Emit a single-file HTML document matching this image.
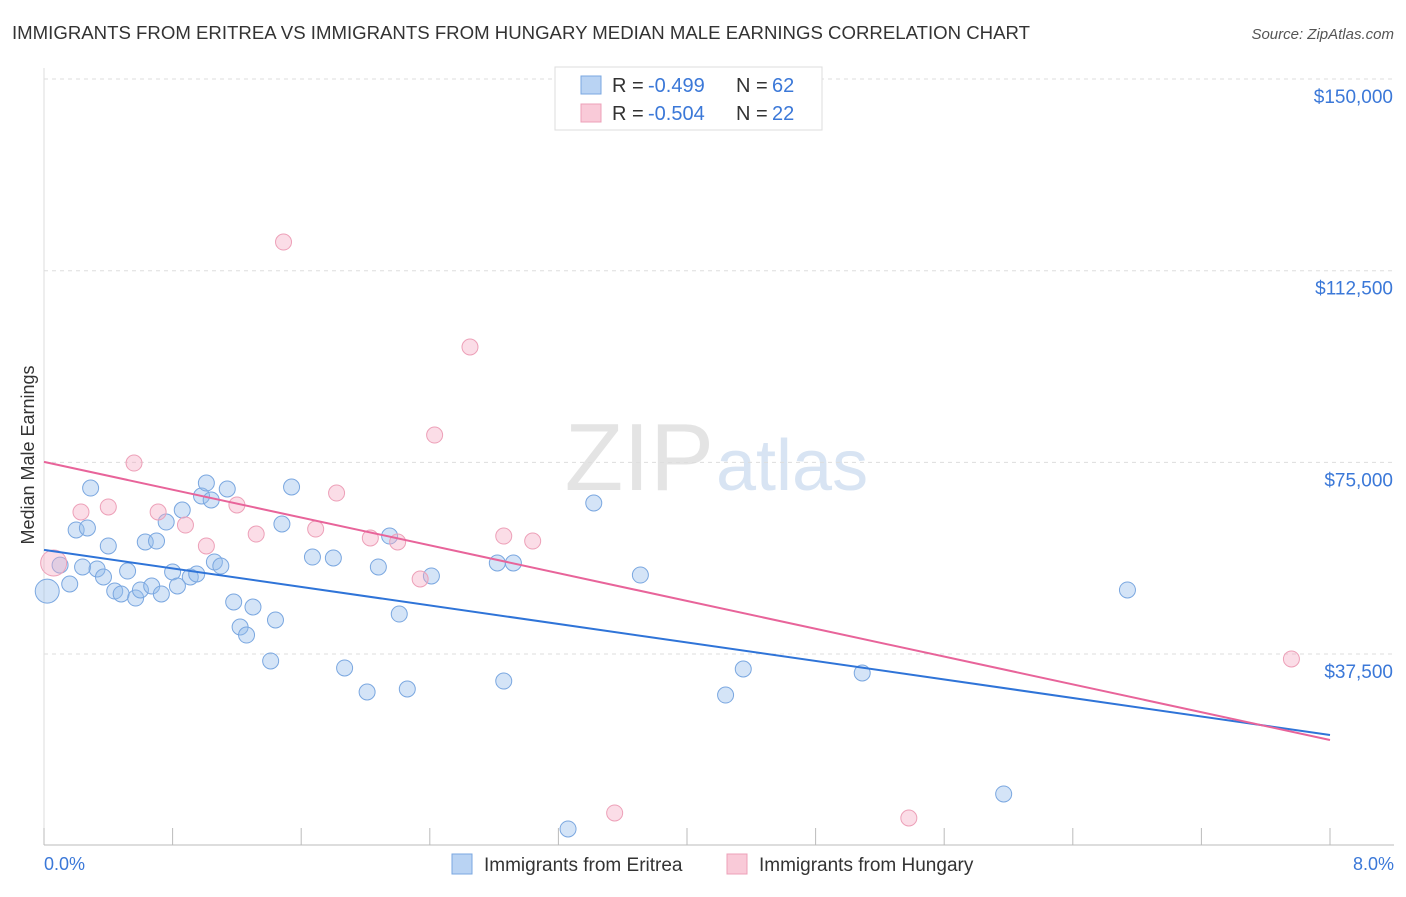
<!DOCTYPE html>
<html><head><meta charset="utf-8"><style>
body{margin:0;background:#fff;font-family:"Liberation Sans",sans-serif;}
svg text{font-family:"Liberation Sans",sans-serif;}
</style></head><body>
<svg width="1406" height="892" xmlns="http://www.w3.org/2000/svg">
<text x="12" y="39" font-size="18" fill="#333" textLength="1018" lengthAdjust="spacingAndGlyphs">IMMIGRANTS FROM ERITREA VS IMMIGRANTS FROM HUNGARY MEDIAN MALE EARNINGS CORRELATION CHART</text>
<text x="1394" y="39" font-size="15" fill="#555" font-style="italic" text-anchor="end">Source: ZipAtlas.com</text>
<text x="714" y="490" font-size="96" fill="#e4e4e4" text-anchor="end" font-family="Liberation Serif">ZIP</text>
<text x="716" y="490" font-size="72" fill="#d8e4f3">atlas</text>
<g id="grid"></g>
<g id="axes"></g>
<g id="marks"></g>
<text transform="translate(34,455) rotate(-90)" font-size="18" fill="#333" text-anchor="middle">Median Male Earnings</text>
<text x="44" y="870" font-size="18" fill="#3b78d8">0.0%</text>
<text x="1394" y="870" font-size="18" fill="#3b78d8" text-anchor="end">8.0%</text>
<g>
<rect x="555" y="67" width="267" height="63" fill="#fff" stroke="#ddd"/>
<rect x="581" y="76" width="20" height="18" fill="#b9d3f3" stroke="#7aa7e0"/>
<rect x="581" y="104" width="20" height="18" fill="#f9cad8" stroke="#eda0b8"/>
<text x="612" y="92" font-size="20" fill="#333">R =</text>
<text x="648" y="92" font-size="20" fill="#3b78d8">-0.499</text>
<text x="736" y="92" font-size="20" fill="#333">N =</text>
<text x="772" y="92" font-size="20" fill="#3b78d8">62</text>
<text x="612" y="120" font-size="20" fill="#333">R =</text>
<text x="648" y="120" font-size="20" fill="#3b78d8">-0.504</text>
<text x="736" y="120" font-size="20" fill="#333">N =</text>
<text x="772" y="120" font-size="20" fill="#3b78d8">22</text>
</g>
<g>
<rect x="452" y="854" width="20" height="20" fill="#b9d3f3" stroke="#7aa7e0"/>
<text x="484" y="871" font-size="19" fill="#333">Immigrants from Eritrea</text>
<rect x="727" y="854" width="20" height="20" fill="#f9cad8" stroke="#eda0b8"/>
<text x="759" y="871" font-size="19" fill="#333">Immigrants from Hungary</text>
</g>
</svg>
<script>
const yTicks=[37500,75000,112500,150000];
const yTickLabels=["$37,500","$75,000","$112,500","$150,000"];
const xTicks=[0,0.8,1.6,2.4,3.2,4,4.8,5.6,6.4,7.2,8];
const eritreaX=[0.02,0.10,0.16,0.20,0.27,0.29,0.24,0.33,0.37,0.40,0.44,0.48,0.52,0.57,0.60,0.63,0.67,0.70,0.73,0.76,0.80,0.83,0.86,0.91,0.95,0.98,1.01,1.04,1.06,1.10,1.14,1.18,1.22,1.26,1.30,1.41,1.44,1.48,1.54,1.67,1.80,1.87,2.01,2.08,2.15,2.21,2.26,2.41,2.82,2.86,2.92,3.26,3.42,3.71,4.24,4.35,5.09,5.97,6.74];
const eritreaY=[49800,54900,51200,61770,62160,69980,54530,54140,52570,58640,49830,49250,53740,48460,50030,59420,50810,59610,49250,63330,53550,50810,65680,52570,53160,68420,70960,67640,55510,54720,69790,47680,42790,41220,46700,36140,44160,62940,70180,56480,56290,34770,30070,54530,60590,45330,30660,52770,55310,32220,55310,3270,67050,52960,29480,34570,33790,10120,50030];
const hungaryX=[0.06,0.23,0.40,0.56,0.71,0.88,1.01,1.20,1.32,1.49,1.69,1.82,2.03,2.20,2.34,2.43,2.65,2.86,3.04,3.55,5.38,7.76];
const hungaryY=[55310,65290,66270,74870,65290,62740,58640,66660,60980,118110,61960,69000,60200,59420,52180,80350,97570,60590,59610,6400,5420,36530];
const eritreaTrend=[57870,21660];
const hungaryTrend=[75090,20680];
const trendX=[0,8];
const NS="http://www.w3.org/2000/svg";
const sx=v=>44+v*160.75;
const sy=v=>845.7-v/195.65;
function mk(t,a,p){const e=document.createElementNS(NS,t);for(const k in a)e.setAttribute(k,a[k]);p.appendChild(e);return e;}
const grid=document.getElementById('grid'),axes=document.getElementById('axes'),marks=document.getElementById('marks');
yTicks.forEach((v,i)=>{
 const l=mk('line',{x1:44,x2:1394,y1:sy(v),y2:sy(v),stroke:'#ddd','stroke-dasharray':'4,4'},grid);
 
 
 const t=mk('text',{x:1393,y:sy(v)+24,'font-size':19,fill:'#3b78d8','text-anchor':'end'},axes);
 t.textContent=yTickLabels[i];
 
 
});
const ax=mk('line',{x1:44,x2:1394,y1:845,y2:845,stroke:'#bbb'},axes);


const ay=mk('line',{x1:44,x2:44,y1:68,y2:845,stroke:'#ddd'},axes);


xTicks.forEach(v=>{
 const t=mk('line',{x1:sx(v),x2:sx(v),y1:828,y2:845,stroke:'#bbb'},axes);
 
 
});
function pts(X,Y,fill,stroke,name,bigIdx,bigR){
 X.forEach((x,i)=>{
  const c=mk('circle',{cx:sx(x),cy:sy(Y[i]),r:i===bigIdx?bigR:8,fill:fill,stroke:stroke,'stroke-width':1},marks);
  
  
 });
}
pts(eritreaX,eritreaY,'rgba(147,187,235,0.4)','#7aa7e0','eritrea-point',0,12);
pts(hungaryX,hungaryY,'rgba(244,170,195,0.4)','#eda0b8','hungary-point',0,13);
const l1=mk('line',{x1:sx(trendX[0]),y1:sy(eritreaTrend[0]),x2:sx(trendX[1]),y2:sy(eritreaTrend[1]),stroke:'#2f74d8','stroke-width':2},marks);


const l2=mk('line',{x1:sx(trendX[0]),y1:sy(hungaryTrend[0]),x2:sx(trendX[1]),y2:sy(hungaryTrend[1]),stroke:'#e8649a','stroke-width':2},marks);


</script>
</body></html>
